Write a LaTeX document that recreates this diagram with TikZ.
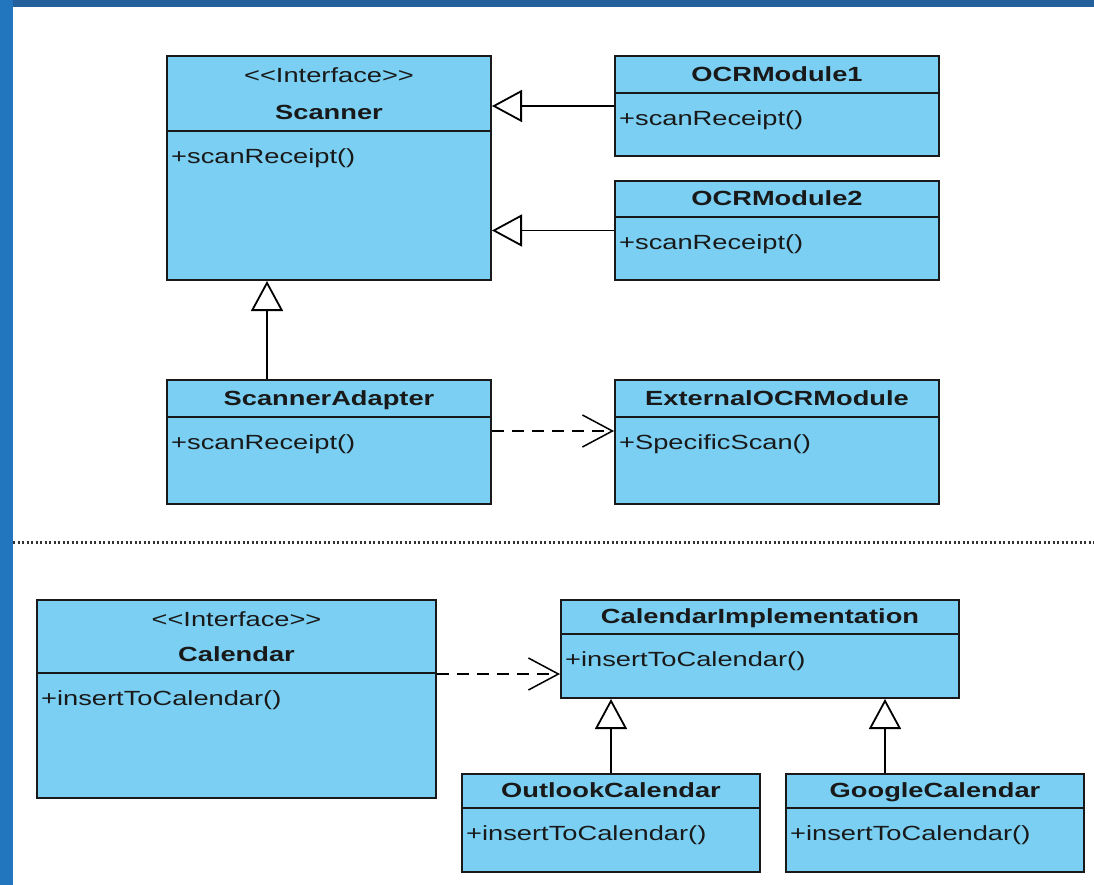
\documentclass[tikz,border=0pt]{standalone}
\usepackage{fontspec}
\usetikzlibrary{arrows.meta}
\newfontfamily\umlfont[FakeStretch=1.33]{Liberation Sans}
\definecolor{classfill}{RGB}{122,207,242}
\definecolor{textdark}{RGB}{25,25,25}
\definecolor{edgetop}{RGB}{36,96,155}
\definecolor{edgeleft}{RGB}{33,118,190}
\tikzset{
	classbox/.style={draw=black!90, line width=2pt, fill=classfill, anchor=north west, inner sep=0pt},
	classline/.style={draw=black!90, line width=2pt},
	classtext/.style={font=\umlfont\fontsize{20.5}{24}\selectfont, text=textdark, inner sep=0pt, text height=14.7pt, text depth=0pt},
	classtitle/.style={classtext, font=\umlfont\bfseries\fontsize{20.5}{24}\selectfont},
	classop/.style={classtext, anchor=west},
	gen/.style={line width=1.8pt, -{Triangle[fill=white, length=30pt, width=32pt]}},
	dep/.style={line width=1.5pt, dash pattern=on 12pt off 8pt, -{Straight Barb[length=30pt, width=32pt]}},
	sepline/.style={line width=3pt, draw=black!80, dash pattern=on 2.2pt off 2.3pt}
}
\newcommand{\umlclass}[8]{%
	\node[classbox, minimum width=#4pt, minimum height=#5pt] (#1) at (#2,#3) {};
	\draw[classline] ([yshift=-#6pt]#1.north west) -- ([yshift=-#6pt]#1.north east);
	\node[classtitle] (#1-name) at ([yshift=-#6pt/2]#1.north) {#7};
	\node[classop] (#1-op) at ([xshift=5pt, yshift=-#6pt-25pt]#1.north west) {#8};
}
\newcommand{\umlinterface}[8]{%
	\node[classbox, minimum width=#4pt, minimum height=#5pt] (#1) at (#2,#3) {};
	\draw[classline] ([yshift=-#6pt]#1.north west) -- ([yshift=-#6pt]#1.north east);
	\node[classtext] (#1-stereo) at ([yshift=-20pt]#1.north) {<{}<Interface>{}>};
	\node[classtitle] (#1-name) at ([yshift=-#6pt+19pt]#1.north) {#7};
	\node[classop] (#1-op) at ([xshift=5pt, yshift=-#6pt-25pt]#1.north west) {#8};
}
\begin{document}
\begin{tikzpicture}[x=1pt, y=-1pt]
	\useasboundingbox (0,0) rectangle (1094,885);
	\fill[white] (0,0) rectangle (1094,885);
	\fill[edgetop] (0,0) rectangle (1094,7);
	\fill[edgeleft] (0,0) rectangle (13,885);

	\umlinterface{scanner}{166}{55}{324}{224}{76}{Scanner}{+scanReceipt()}
	\umlclass{ocr1}{614}{55}{324}{100}{38}{OCRModule1}{+scanReceipt()}
	\umlclass{ocr2}{614}{180}{324}{99}{37}{OCRModule2}{+scanReceipt()}
	\umlclass{adapter}{166}{379}{324}{124}{38}{ScannerAdapter}{+scanReceipt()}
	\umlclass{extocr}{614}{379}{324}{124}{38}{ExternalOCRModule}{+SpecificScan()}

	\draw[sepline] (13,542) -- (1094,542);

	\umlinterface{calendar}{36}{599}{399}{198}{74}{Calendar}{+insertToCalendar()}
	\umlclass{calimpl}{560}{599}{398}{98}{35}{CalendarImplementation}{+insertToCalendar()}
	\umlclass{outlook}{461}{773}{298}{98}{35}{OutlookCalendar}{+insertToCalendar()}
	\umlclass{google}{785}{773}{298}{98}{35}{GoogleCalendar}{+insertToCalendar()}

	\draw[gen] (ocr1.west) -- (ocr1.west -| scanner.east);
	\draw[gen] (ocr2.west) -- (ocr2.west -| scanner.east);
	\coordinate (adapter-up) at ([xshift=-62pt]adapter.north);
	\draw[gen] (adapter-up) -- (adapter-up |- scanner.south);
	\coordinate (adapter-dep) at ([yshift=11pt]adapter.east);
	\draw[dep] (adapter-dep) -- (adapter-dep -| extocr.west);

	\coordinate (calendar-dep) at ([yshift=25pt]calendar.east);
	\draw[dep] (calendar-dep) -- (calendar-dep -| calimpl.west);
	\draw[gen] (outlook.north) -- (outlook.north |- calimpl.south);
	\coordinate (google-up) at ([xshift=-50pt]google.north);
	\draw[gen] (google-up) -- (google-up |- calimpl.south);
\end{tikzpicture}
\end{document}
